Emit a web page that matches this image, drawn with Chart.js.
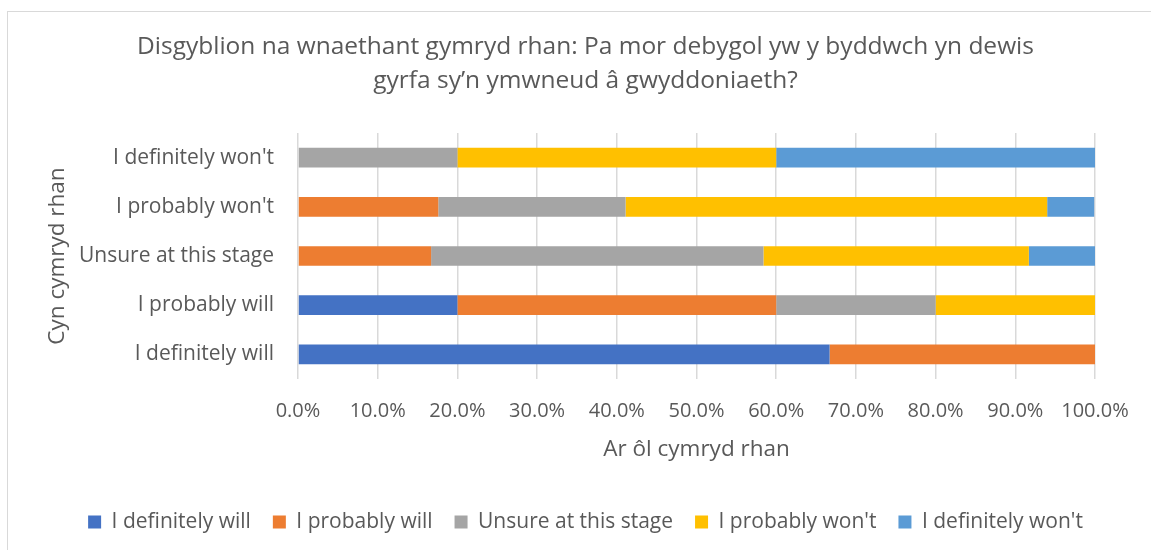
<!DOCTYPE html>
<html>
<head>
<meta charset="utf-8">
<title>Disgyblion na wnaethant gymryd rhan</title>
<script src="https://cdn.jsdelivr.net/npm/chart.js@4.4.1/dist/chart.umd.min.js"></script>
<style>
  html, body { margin: 0; padding: 0; background: #fff; }
  #wrap { width: 1151px; height: 550px; }
</style>
</head>
<body>
<div id="wrap"><canvas id="chart" width="1151" height="550"></canvas></div>
<script>
// Categories (before taking part), top to bottom
const categories = ["I definitely won't", "I probably won't", "Unsure at this stage", "I probably will", "I definitely will"];

// Series (after taking part), share of pupils in %
const definitelyWill = [0, 0, 0, 20.0, 66.7];
const probablyWill   = [0, 17.6, 16.7, 40.0, 33.3];
const unsure         = [20.0, 23.5, 41.7, 20.0, 0];
const probablyWont   = [40.0, 52.9, 33.3, 20.0, 0];
const definitelyWont = [40.0, 5.9, 8.3, 0, 0];

const seriesNames = ['I definitely will', 'I probably will', 'Unsure at this stage', "I probably won't", "I definitely won't"];
const seriesColors = ['#4472C4', '#ED7D31', '#A5A5A5', '#FFC000', '#5B9BD5'];

const titleLines = ['Disgyblion na wnaethant gymryd rhan: Pa mor debygol yw y byddwch yn dewis', 'gyrfa sy\u2019n ymwneud \u00e2 gwyddoniaeth?'];
const xTitle = 'Ar \u00f4l cymryd rhan';
const yTitle = 'Cyn cymryd rhan';

const TEXT = '#595959';
const FONT = "'Open Sans', 'DejaVu Sans', sans-serif";

// thin grey frame round the chart, like the office chart area
const chartFrame = {
  id: 'chartFrame',
  beforeDraw(chart) {
    const ctx = chart.ctx;
    ctx.save();
    ctx.fillStyle = '#fff';
    ctx.fillRect(0, 0, chart.width, chart.height);
    ctx.strokeStyle = '#d9d9d9';
    ctx.lineWidth = 1;
    ctx.strokeRect(7.5, 11.5, chart.width + 20, chart.height + 20);
    ctx.restore();
  }
};

const seriesData = [definitelyWill, probablyWill, unsure, probablyWont, definitelyWont];

const datasets = seriesData.map((values, i) => ({
  label: seriesNames[i],
  data: values,
  backgroundColor: seriesColors[i],
  borderWidth: 0,
  categoryPercentage: 0.8,
  barPercentage: 0.5
}));

Chart.defaults.font.family = FONT;
Chart.defaults.color = TEXT;

new Chart(document.getElementById('chart'), {
  type: 'bar',
  data: { labels: categories, datasets: datasets },
  options: {
    indexAxis: 'y',
    responsive: false,
    animation: false,
    devicePixelRatio: 1,
    layout: { padding: { left: 20, right: 0, top: 0, bottom: 7.5 } },
    scales: {
      x: {
        stacked: true,
        min: 0,
        max: 100,
        ticks: {
          stepSize: 10,
          padding: 20,
          color: TEXT,
          font: { size: 20 },
          callback: (v) => Number(v).toFixed(1) + '%'
        },
        grid: { color: '#d9d9d9', lineWidth: 1.5, drawTicks: false },
        border: { display: false },
        title: {
          display: true,
          text: xTitle,
          color: TEXT,
          font: { size: 22.5 },
          padding: { top: 0, bottom: 26 }
        },
        afterFit: (s) => { s.height = 110.5; }
      },
      y: {
        stacked: true,
        ticks: { padding: 24, color: TEXT, font: { size: 21 } },
        grid: { display: false, drawTicks: false },
        border: { display: false },
        title: {
          display: true,
          text: yTitle,
          color: TEXT,
          font: { size: 22.5 },
          padding: { top: 24.5, bottom: 0 }
        },
        afterFit: (s) => { s.width = 278; }
      },
      // empty axis on the right, only keeps space free after the 100% line
      y2: {
        type: 'linear',
        axis: 'y',
        position: 'right',
        display: true,
        grid: { display: false, drawTicks: false },
        ticks: { display: false },
        border: { display: false },
        afterFit: (s) => { s.width = 56; }
      }
    },
    plugins: {
      title: {
        display: true,
        text: titleLines,
        color: TEXT,
        font: { size: 24.5, weight: 'normal', lineHeight: 34 / 24.5 },
        padding: { top: 30, bottom: 35 }
      },
      legend: {
        position: 'bottom',
        labels: {
          boxWidth: 13,
          boxHeight: 13,
          padding: 22,
          color: TEXT,
          font: { size: 21 }
        }
      },
      tooltip: { enabled: false }
    }
  },
  plugins: [chartFrame]
});
</script>
</body>
</html>
